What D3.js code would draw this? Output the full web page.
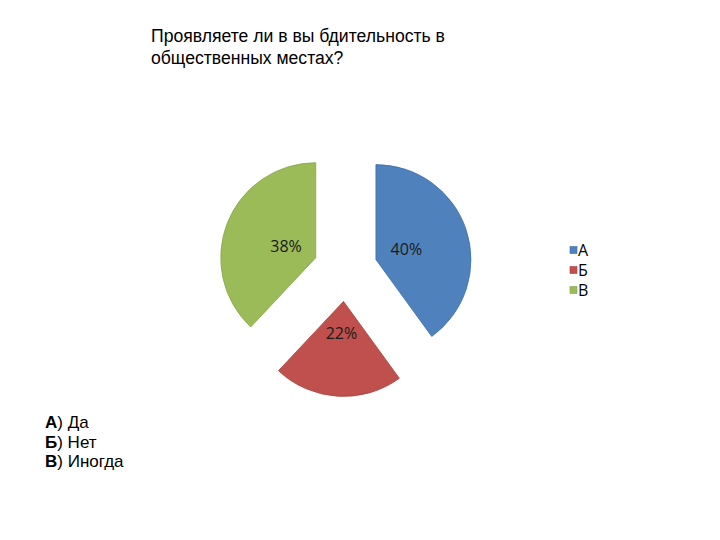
<!DOCTYPE html>
<html>
<head>
<meta charset="utf-8">
<script src="https://cdn.jsdelivr.net/npm/d3@7"></script>
<style>
  html, body { margin: 0; padding: 0; background: #fff; }
  svg { display: block; }
</style>
</head>
<body>
<div id="chart"></div>
<script>
const categories = ["А", "Б", "В"];
const values = [40, 22, 38];
const labels = ["40%", "22%", "38%"];
const colors = ["#4F81BD", "#C0504D", "#9BBB59"];
const strokes = ["#3f6fa6", "#a8413f", "#86a447"];
const titleLines = ["Проявляете ли в вы бдительность в", "общественных местах?"];
const answers = [["А)", " Да"], ["Б)", " Нет"], ["В)", " Иногда"]];

const W = 720, H = 540;
const cx = 345.5, cy = 269.5, r = 95, explode = 32, labelR = 32;

const svg = d3.select("#chart").append("svg")
  .attr("width", W).attr("height", H)
  .attr("viewBox", `0 0 ${W} ${H}`);

// title
svg.append("g").selectAll("text").data(titleLines).join("text")
  .attr("x", 151).attr("y", (d, i) => 42 + i * 21.5)
  .attr("font-family", "Arial, 'Liberation Sans', sans-serif")
  .attr("font-size", 17.6).attr("fill", "#000")
  .text(d => d);

// pie
const pie = d3.pie().sort(null).value(d => d);
const arcs = pie(values);
const arc = d3.arc().innerRadius(0).outerRadius(r);

const slices = svg.append("g").attr("transform", `translate(${cx},${cy})`);

arcs.forEach((a, i) => {
  const mid = (a.startAngle + a.endAngle) / 2;
  const dx = Math.sin(mid) * explode, dy = -Math.cos(mid) * explode;
  const g = slices.append("g").attr("transform", `translate(${dx},${dy})`);
  g.append("path")
    .attr("d", arc(a))
    .attr("fill", colors[i])
    .attr("stroke", strokes[i]).attr("stroke-width", 0.8);
  g.append("text")
    .attr("x", Math.sin(mid) * labelR).attr("y", -Math.cos(mid) * labelR)
    .attr("dy", "0.36em").attr("text-anchor", "middle")
    .attr("font-family", "'Open Sans', sans-serif")
    .attr("font-size", 16).attr("fill", "#1a1a1a")
    .text(labels[i]);
});

// legend
const legend = svg.append("g").attr("transform", "translate(570,250)");
categories.forEach((c, i) => {
  const row = legend.append("g").attr("transform", `translate(0,${i * 20})`);
  row.append("rect")
    .attr("x", 0).attr("y", -3.5).attr("width", 7).attr("height", 7)
    .attr("fill", colors[i]).attr("stroke", strokes[i]).attr("stroke-width", 0.6);
  row.append("text")
    .attr("x", 8).attr("y", 0).attr("dy", "0.36em")
    .attr("font-family", "'Open Sans', sans-serif")
    .attr("font-size", 16).attr("fill", "#000")
    .text(c);
});

// answer key
const key = svg.append("g");
answers.forEach((a, i) => {
  const t = key.append("text")
    .attr("x", 45).attr("y", 428 + i * 19.5)
    .attr("font-family", "Arial, 'Liberation Sans', sans-serif")
    .attr("font-size", 17).attr("fill", "#000");
  t.append("tspan").attr("font-weight", "bold").text(a[0].slice(0, 1));
  t.append("tspan").text(a[0].slice(1) + a[1]);
});
</script>
</body>
</html>
